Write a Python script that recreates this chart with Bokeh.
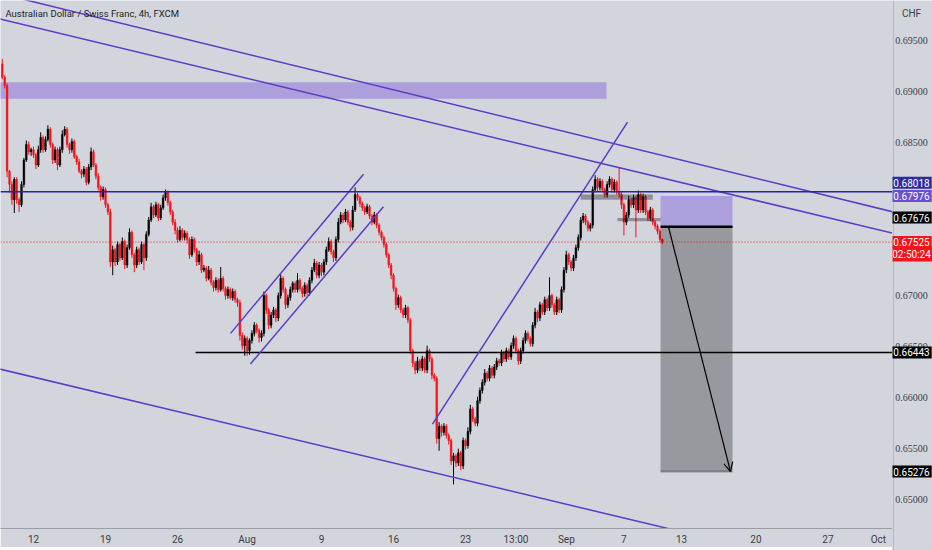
import numpy as np
from bokeh.plotting import figure
from bokeh.layouts import row
from bokeh.models import (ColumnDataSource, FixedTicker, Label, Span, Arrow,
                          OpenHead, Range1d)
from bokeh.embed import file_html
from bokeh.resources import INLINE

# 4h bars, index 0 = Mon 12 Jul 2021 00:00 (30 bars per trading week)
bars = list(range(-13, 263))
first_open = 0.6927
closes = [
    # Jul 9
    0.6914, 0.6906, 0.6822, 0.6809, 0.6794, 0.6814, 0.6794, 0.6789, 0.6809, 0.6833, 0.6848, 0.6841, 0.6843,
    # Jul 12
    0.6838, 0.6828, 0.6843, 0.6855, 0.6843, 0.6853, 0.6863, 0.6848, 0.6833, 0.6843,
    0.6828, 0.6843, 0.6858, 0.6863, 0.6848, 0.6843, 0.6851, 0.6836, 0.6831, 0.6822,
    0.6819, 0.6824, 0.6811, 0.6826, 0.6841, 0.6828, 0.6817, 0.6806, 0.6797, 0.6804,
    # Jul 19
    0.6789, 0.6782, 0.6733, 0.6745, 0.6733, 0.6750, 0.6737, 0.6753, 0.6730, 0.6747,
    0.6762, 0.6740, 0.6730, 0.6745, 0.6733, 0.6750, 0.6737, 0.6760, 0.6774, 0.6787,
    0.6779, 0.6789, 0.6776, 0.6786, 0.6796, 0.6801, 0.6791, 0.6782, 0.6772, 0.6764,
    # Jul 26
    0.6755, 0.6764, 0.6757, 0.6761, 0.6755, 0.6740, 0.6755, 0.6745, 0.6733, 0.6740,
    0.6725, 0.6727, 0.6717, 0.6725, 0.6713, 0.6708, 0.6715, 0.6706, 0.6717, 0.6707,
    0.6700, 0.6706, 0.6698, 0.6704, 0.6696, 0.6693, 0.6661, 0.6651, 0.6658, 0.6646,
    # Aug 2
    0.6656, 0.6663, 0.6671, 0.6666, 0.6659, 0.6663, 0.6700, 0.6686, 0.6671, 0.6681,
    0.6686, 0.6678, 0.6700, 0.6717, 0.6706, 0.6691, 0.6698, 0.6706, 0.6712, 0.6706,
    0.6715, 0.6707, 0.6702, 0.6710, 0.6703, 0.6715, 0.6725, 0.6732, 0.6720, 0.6730,
    # Aug 9
    0.6723, 0.6733, 0.6745, 0.6753, 0.6743, 0.6737, 0.6755, 0.6772, 0.6779, 0.6774,
    0.6782, 0.6772, 0.6767, 0.6784, 0.6799, 0.6796, 0.6790, 0.6786, 0.6782, 0.6787,
    0.6778, 0.6772, 0.6779, 0.6769, 0.6762, 0.6757, 0.6750, 0.6740, 0.6730, 0.6720,
    # Aug 16
    0.6707, 0.6691, 0.6698, 0.6686, 0.6681, 0.6688, 0.6676, 0.6646, 0.6634, 0.6627,
    0.6636, 0.6629, 0.6638, 0.6627, 0.6646, 0.6638, 0.6622, 0.6619, 0.6560, 0.6572,
    0.6566, 0.6572, 0.6563, 0.6558, 0.6538, 0.6543, 0.6536, 0.6546, 0.6533, 0.6558,
    # Aug 23
    0.6553, 0.6567, 0.6589, 0.6579, 0.6575, 0.6597, 0.6607, 0.6615, 0.6624, 0.6619,
    0.6629, 0.6622, 0.6630, 0.6636, 0.6634, 0.6644, 0.6638, 0.6646, 0.6640, 0.6651,
    0.6658, 0.6646, 0.6636, 0.6646, 0.6656, 0.6663, 0.6658, 0.6653, 0.6671, 0.6684,
    # Aug 30
    0.6678, 0.6691, 0.6684, 0.6696, 0.6688, 0.6700, 0.6691, 0.6684, 0.6696, 0.6686,
    0.6706, 0.6725, 0.6740, 0.6733, 0.6727, 0.6737, 0.6747, 0.6757, 0.6774, 0.6778,
    0.6772, 0.6766, 0.6769, 0.6804, 0.6814, 0.6806, 0.6812, 0.6804, 0.6799, 0.6809,
    # Sep 6
    0.6814, 0.6804, 0.6811, 0.6802, 0.6799, 0.6789, 0.6772, 0.6779, 0.6794, 0.6789,
    0.6796, 0.6784, 0.6799, 0.6784, 0.6797, 0.6782, 0.6776, 0.6784, 0.6772, 0.6768,
    0.6763, 0.6755, 0.67525,
]
# wick lengths beyond the body, in pips
up_wick = [
    5, 2, 2, 1, 3, 2, 2, 2, 3, 2, 4, 3, 2,
    3, 2, 4, 5, 2, 3, 4, 2, 2, 3, 2, 3, 4, 3, 2, 2, 3, 2, 2, 3, 2, 3, 2, 3, 4, 2, 2, 3, 2, 3,
    2, 2, 3, 4, 2, 3, 2, 4, 2, 3, 4, 2, 2, 3, 2, 3, 2, 3, 3, 4, 2, 3, 2, 3, 3, 3, 2, 2, 2, 3,
    3, 4, 2, 3, 2, 2, 3, 2, 2, 4, 2, 3, 2, 4, 2, 2, 3, 2, 11, 2, 2, 3, 2, 3, 2, 2, 3, 3, 3, 2,
    2, 3, 3, 2, 2, 3, 4, 2, 2, 3, 3, 2, 3, 4, 2, 2, 3, 3, 2, 2, 7, 2, 2, 3, 2, 3, 3, 4, 2, 3,
    2, 3, 3, 4, 2, 2, 3, 4, 3, 2, 3, 2, 2, 4, 7, 2, 2, 2, 2, 3, 2, 2, 3, 2, 2, 2, 2, 2, 2, 2,
    2, 2, 3, 2, 2, 3, 2, 2, 2, 2, 4, 2, 3, 2, 5, 2, 2, 2, 2, 4, 2, 3, 2, 2, 2, 3, 2, 4, 2, 3,
    2, 4, 4, 2, 2, 4, 3, 3, 4, 2, 3, 2, 3, 3, 2, 3, 2, 3, 2, 3, 3, 2, 2, 3, 3, 3, 2, 2, 3, 4,
    2, 3, 2, 3, 2, 18, 2, 2, 3, 2, 3, 3, 4, 2, 2, 3, 3, 3, 3, 3, 2, 2, 2, 3, 4, 2, 3, 2, 2, 3,
    3, 2, 3, 2, 24, 3, 2, 3, 4, 2, 3, 2, 4, 2, 3, 2, 2, 3, 2, 2, 2, 2, 1,
]
dn_wick = [
    2, 3, 6, 8, 5, 13, 4, 7, 2, 3, 2, 3, 4,
    3, 4, 2, 3, 3, 2, 2, 3, 4, 3, 5, 2, 3, 2, 3, 4, 3, 2, 3, 2, 4, 3, 3, 2, 3, 2, 3, 3, 4, 3,
    3, 3, 5, 13, 4, 3, 3, 2, 4, 3, 2, 3, 7, 3, 3, 2, 12, 3, 2, 2, 3, 2, 3, 2, 2, 3, 3, 3, 3, 4,
    3, 2, 3, 3, 4, 4, 2, 3, 4, 3, 3, 2, 3, 2, 3, 4, 3, 3, 2, 3, 4, 3, 2, 3, 3, 4, 5, 4, 10, 5,
    4, 3, 3, 3, 5, 4, 3, 4, 4, 3, 3, 4, 3, 3, 3, 4, 3, 3, 3, 3, 3, 3, 4, 3, 3, 3, 3, 2, 3, 3,
    4, 3, 3, 2, 3, 4, 3, 3, 2, 3, 2, 3, 4, 3, 2, 3, 3, 3, 3, 2, 3, 3, 2, 3, 3, 3, 3, 3, 3, 4,
    3, 5, 3, 3, 3, 3, 3, 3, 4, 4, 3, 3, 3, 3, 3, 3, 4, 3, 5, 12, 4, 3, 3, 4, 4, 23, 4, 3, 4, 3,
    4, 3, 3, 3, 3, 3, 3, 3, 3, 3, 3, 3, 3, 3, 3, 3, 3, 3, 3, 3, 3, 3, 4, 3, 3, 3, 3, 3, 3, 3,
    4, 3, 3, 3, 3, 3, 3, 3, 3, 3, 3, 3, 3, 3, 3, 3, 3, 3, 3, 3, 3, 3, 3, 3, 3, 4, 3, 3, 3, 3,
    3, 3, 3, 3, 3, 4, 13, 3, 3, 3, 3, 27, 3, 3, 3, 3, 3, 3, 3, 3, 3, 3, 2,
]

# x axis ticks (bar index) and their labels
x_ticks = [0, 30, 60, 89, 120, 150, 180, 201, 222, 246, 270, 301, 331, 352]
x_labels = ["12", "19", "26", "Aug", "9", "16", "23", "13:00", "Sep", "7", "13", "20", "27", "Oct"]
y_ticks = [0.650, 0.655, 0.660, 0.665, 0.670, 0.685, 0.690, 0.695]

# drawings
resist_level = 0.68018
support_level = 0.66443
support_from = 67.5
last_price = 0.67525
countdown = "02:50:24"
supply_zone = dict(left=-14, right=238.75, bottom=0.6893, top=0.6909)
trend_a = dict(x=[-5.4, 360.0], y=[0.6991, 0.6781])
trend_b = dict(x=[-14.0, 360.0], y=[0.6971, 0.6760])
trend_low = dict(x=[-14.0, 280.0], y=[0.6628, 0.6463])
channel_up = dict(x=[82.1, 137.5], y=[0.6663, 0.6819])
channel_dn = dict(x=[90.4, 145.8], y=[0.6633, 0.6787])
rise_line = dict(x=[166.25, 247.5], y=[0.6574, 0.6870])
grey_blocks = dict(left=[228.0, 243.3], right=[258.0, 270.8],
                   bottom=[0.6794, 0.6773], top=[0.6799, 0.6776])
pos_left, pos_right = 261.25, 291.25
entry, stop, target = 0.67676, 0.67976, 0.65276
arrow_from = (264.6, 0.6767)
arrow_to = (290.4, target)

bg = "#d3d5dd"
red = "#f5131b"
purple = "#5b3cc4"
axis_grey = "#9a9ca6"
label_col = "#3a3d46"
font = "Liberation Sans Narrow, Roboto"

opens = [first_open] + closes[:-1]
highs = [max(o, c) + u / 10000 for o, c, u in zip(opens, closes, up_wick)]
lows = [min(o, c) - d / 10000 for o, c, d in zip(opens, closes, dn_wick)]
colors = ["#000000" if c >= o else red for o, c in zip(opens, closes)]
src = ColumnDataSource(dict(x=bars, o=opens, c=closes, h=highs, l=lows, col=colors))

p = figure(frame_width=892, frame_height=528, output_backend="svg", toolbar_location=None,
           x_range=Range1d(-13.75, 357.9), y_range=Range1d(0.64718, 0.69892),
           y_axis_location=None,
           min_border_left=0, min_border_top=0, min_border_right=0, min_border_bottom=0)
p.background_fill_color = bg
p.border_fill_color = bg
p.outline_line_color = None
p.grid.visible = False

ax = p.xaxis[0]
ax.axis_line_color = axis_grey
ax.major_tick_line_color = None
ax.minor_tick_line_color = None
ax.major_tick_out = 0
ax.major_tick_in = 0
ax.major_label_text_font = font
ax.major_label_text_font_size = "10px"
ax.major_label_text_color = label_col
ax.ticker = FixedTicker(ticks=x_ticks)
ax.major_label_overrides = {t: s for t, s in zip(x_ticks, x_labels)}
ax.major_label_standoff = 5

# zone
p.quad(left=[supply_zone["left"]], right=[supply_zone["right"]],
       bottom=[supply_zone["bottom"]], top=[supply_zone["top"]],
       fill_color="#ad9fdc", line_color=None)

# candles
p.segment(x0="x", x1="x", y0="l", y1="h", color="col", line_width=1, source=src)
p.vbar(x="x", width=0.7, top="o", bottom="c", fill_color="col", line_color="col",
       line_width=0.5, source=src)

# levels
p.add_layout(Span(location=resist_level, dimension="width", line_color="#2424a8", line_width=1.6))
p.add_layout(Span(location=last_price, dimension="width", line_color=red, line_width=1,
                  line_dash="1 2"))
p.segment(x0=[support_from], x1=[400], y0=[support_level], y1=[support_level],
          line_color="#000000", line_width=1.4)

# trend lines and channels
for ln in (trend_a, trend_b, trend_low, channel_up, channel_dn, rise_line):
    p.line(ln["x"], ln["y"], line_color=purple, line_width=1.5)

# grey blocks
p.quad(left=grey_blocks["left"], right=grey_blocks["right"], bottom=grey_blocks["bottom"],
       top=grey_blocks["top"], fill_color="#000000", fill_alpha=0.32, line_color=None)

# short position tool
p.quad(left=[pos_left], right=[pos_right], bottom=[entry], top=[stop],
       fill_color="#ad9fdc", line_color=None)
p.quad(left=[pos_left], right=[pos_right], bottom=[target], top=[entry],
       fill_color="#000000", fill_alpha=0.28, line_color=None)
p.segment(x0=[pos_left], x1=[pos_right], y0=[entry], y1=[entry], line_color="#000000",
          line_width=2.5)
p.segment(x0=[pos_left], x1=[pos_right], y0=[target], y1=[target], line_color="#000000",
          line_alpha=0.3, line_width=2)
p.add_layout(Arrow(end=OpenHead(size=9, line_color="#000000", line_width=1.2),
                   x_start=arrow_from[0], y_start=arrow_from[1],
                   x_end=arrow_to[0], y_end=arrow_to[1],
                   line_color="#000000", line_width=1.2))

# title
p.add_layout(Label(x=-11.7, y=0.69765, text="Australian Dollar / Swiss Franc, 4h, FXCM",
                   text_font=font, text_font_size="9.5px", text_color="#1e1f26",
                   text_baseline="middle"))

# price scale on the right (same price scale, runs down to the window bottom)
s = figure(frame_width=40, frame_height=550, output_backend="svg", toolbar_location=None,
           x_range=Range1d(0, 40), y_range=Range1d(0.64502, 0.69892),
           x_axis_location=None, y_axis_location=None,
           min_border_left=0, min_border_top=0, min_border_right=0, min_border_bottom=0)
s.background_fill_color = bg
s.border_fill_color = bg
s.outline_line_color = None
s.grid.visible = False
s.add_layout(Span(location=0.5, dimension="height", line_color=axis_grey, line_width=1))
s.text(x=[19] * len(y_ticks), y=y_ticks, text=[f"{v:.5f}" for v in y_ticks],
       text_font=font, text_font_size="10px", text_color=label_col,
       text_align="center", text_baseline="middle")
s.add_layout(Label(x=19, y=0.69765, text="CHF", text_font=font, text_font_size="10px",
                   text_color=label_col, text_align="center", text_baseline="middle"))

# (value, text, colour, vertical nudge in px)
tags = [
    (resist_level, f"{resist_level:.5f}", "#2c2ca0", 9),
    (stop, f"{stop:.5f}", "#6a4fcf", 0),
    (entry, f"{entry:.5f}", "#000000", 9),
    (last_price, f"{last_price:.5f}", red, 0),
    (last_price, countdown, red, -12),
    (support_level, f"{support_level:.5f}", "#000000", 0),
    (target, f"{target:.5f}", "#000000", 0),
]
for yv, txt, colr, dy in tags:
    s.add_layout(Label(x=19, y=yv, y_offset=dy, text=txt, text_font=font,
                       text_font_size="10px", text_color="#ffffff", text_align="center",
                       text_baseline="middle", background_fill_color=colr, padding=2))

layout = row(p, s, spacing=0)
open("out.html", "w").write(file_html(layout, INLINE))
